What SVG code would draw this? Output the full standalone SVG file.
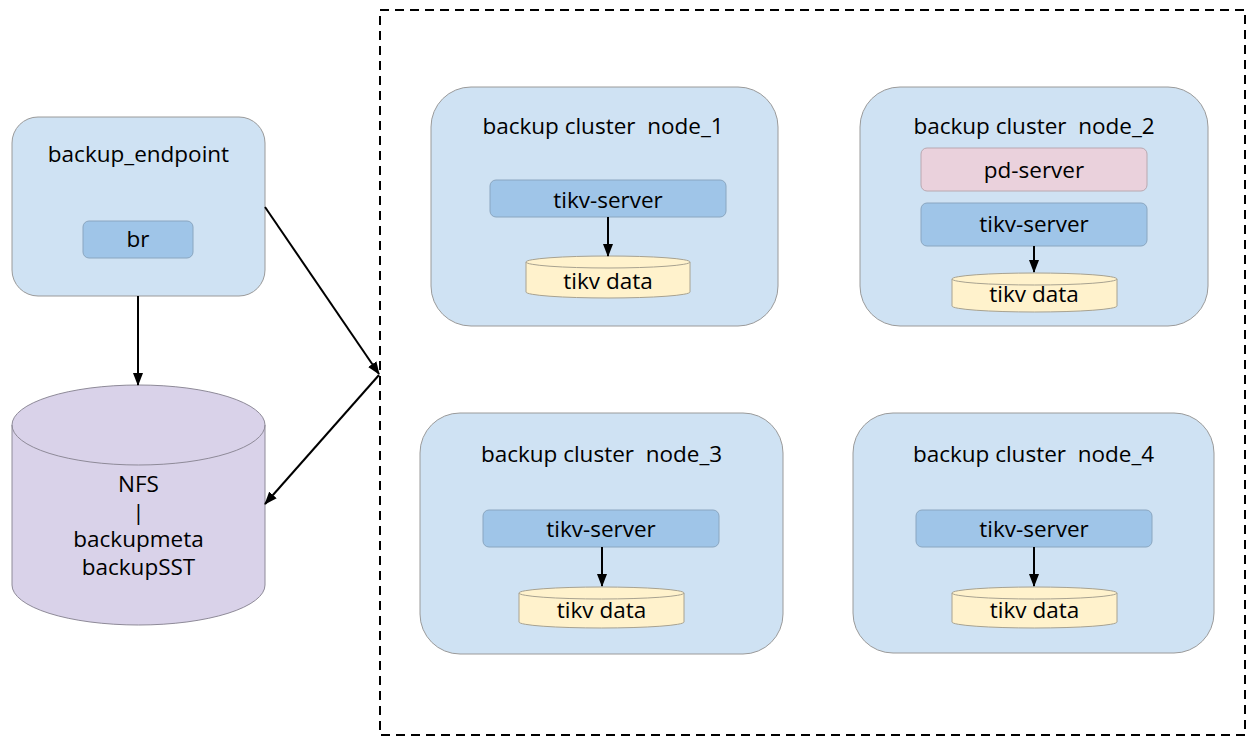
<svg xmlns="http://www.w3.org/2000/svg" width="1247" height="736" viewBox="0 0 1247 736" xml:space="preserve">
<defs>
<style>
text{font-family:"Open Sans","Noto Sans","Liberation Sans",sans-serif;font-size:22.5px;fill:#000;text-anchor:middle;white-space:pre}
.outer{fill:#cfe2f3;stroke:#9a9a9a;stroke-width:1}
.tikv{fill:#9fc5e8;stroke:#8aa6c0;stroke-width:1}
.pd{fill:#ead1dc;stroke:#b9a8b0;stroke-width:1}
.data{fill:#fff2cc;stroke:#a8a290;stroke-width:1}
.nfs{fill:#d9d2e9;stroke:#8e8a98;stroke-width:1}
.rim{fill:none}
.conn{stroke:#000;stroke-width:2;fill:none;marker-end:url(#ah)}
</style>
<marker id="ah" viewBox="0 0 13 10" refX="12" refY="5" markerWidth="13" markerHeight="10" markerUnits="userSpaceOnUse" orient="auto">
<path d="M0,0 L13,5 L0,10 Z" fill="#000"/>
</marker>
</defs>
<rect id="cluster-boundary" x="380" y="10" width="865" height="725" fill="none" stroke="#000" stroke-width="2" stroke-dasharray="9 6"/>
<g id="backup_endpoint">
<rect class="outer" x="12" y="117" width="253" height="179" rx="26"/>
<text x="138.5" y="162">backup_endpoint</text>
<g id="br">
<rect class="tikv" x="83" y="221" width="110" height="37" rx="6"/>
<text x="138" y="247">br</text>
</g>
</g>
<g id="nfs">
<path class="nfs" d="M12,425 A126.5,40 0 0,1 265,425 L265,585 A126.5,40 0 0,1 12,585 Z"/>
<path class="nfs rim" d="M12,425 A126.5,40 0 0,0 265,425"/>
<text x="138.5" y="492">NFS</text>
<text x="138.5" y="519.5">|</text>
<text x="138.5" y="547">backupmeta</text>
<text x="138.5" y="575">backupSST</text>
</g>
<g id="node_1">
<rect class="outer" x="431" y="87" width="347" height="239" rx="40"/>
<text x="603" y="134">backup cluster  node_1</text>
<g id="node_1-tikv-server">
<rect class="tikv" x="490" y="180" width="236" height="37" rx="6"/>
<text x="608" y="208">tikv-server</text>
</g>
<g id="node_1-tikv-data">
<path class="data" d="M526,262 A82,6 0 0,1 690,262 L690,292 A82,6 0 0,1 526,292 Z"/>
<path class="data rim" d="M526,262 A82,6 0 0,0 690,262"/>
<text x="608" y="289">tikv data</text>
</g>
</g>
<g id="node_2">
<rect class="outer" x="860" y="87" width="348" height="239" rx="40"/>
<text x="1034" y="134">backup cluster  node_2</text>
<g id="node_2-pd-server">
<rect class="pd" x="921" y="148" width="226" height="43" rx="6"/>
<text x="1034" y="178">pd-server</text>
</g>
<g id="node_2-tikv-server">
<rect class="tikv" x="921" y="203" width="226" height="43" rx="6"/>
<text x="1034" y="232">tikv-server</text>
</g>
<g id="node_2-tikv-data">
<path class="data" d="M952,279 A82.5,6 0 0,1 1117,279 L1117,306 A82.5,6 0 0,1 952,306 Z"/>
<path class="data rim" d="M952,279 A82.5,6 0 0,0 1117,279"/>
<text x="1034" y="302">tikv data</text>
</g>
</g>
<g id="node_3">
<rect class="outer" x="420" y="413" width="363" height="241" rx="40"/>
<text x="601.5" y="462">backup cluster  node_3</text>
<g id="node_3-tikv-server">
<rect class="tikv" x="483" y="510" width="236" height="37" rx="6"/>
<text x="601" y="537">tikv-server</text>
</g>
<g id="node_3-tikv-data">
<path class="data" d="M519,593 A82.5,6 0 0,1 684,593 L684,622 A82.5,6 0 0,1 519,622 Z"/>
<path class="data rim" d="M519,593 A82.5,6 0 0,0 684,593"/>
<text x="601.5" y="618">tikv data</text>
</g>
</g>
<g id="node_4">
<rect class="outer" x="853" y="413" width="361" height="240" rx="40"/>
<text x="1033.5" y="462">backup cluster  node_4</text>
<g id="node_4-tikv-server">
<rect class="tikv" x="916" y="510" width="236" height="37" rx="6"/>
<text x="1034" y="537">tikv-server</text>
</g>
<g id="node_4-tikv-data">
<path class="data" d="M952,593 A82.5,6 0 0,1 1117,593 L1117,622 A82.5,6 0 0,1 952,622 Z"/>
<path class="data rim" d="M952,593 A82.5,6 0 0,0 1117,593"/>
<text x="1034.5" y="618">tikv data</text>
</g>
</g>
<g id="connectors">
<line class="conn" x1="138" y1="296" x2="138" y2="385"/>
<line class="conn" x1="265" y1="207" x2="379" y2="374"/>
<line class="conn" x1="379" y1="375" x2="265" y2="504"/>
<line class="conn" x1="608" y1="217" x2="608" y2="256"/>
<line class="conn" x1="1034" y1="246" x2="1034" y2="272"/>
<line class="conn" x1="602" y1="547" x2="602" y2="586"/>
<line class="conn" x1="1034" y1="547" x2="1034" y2="586"/>
</g>
</svg>
